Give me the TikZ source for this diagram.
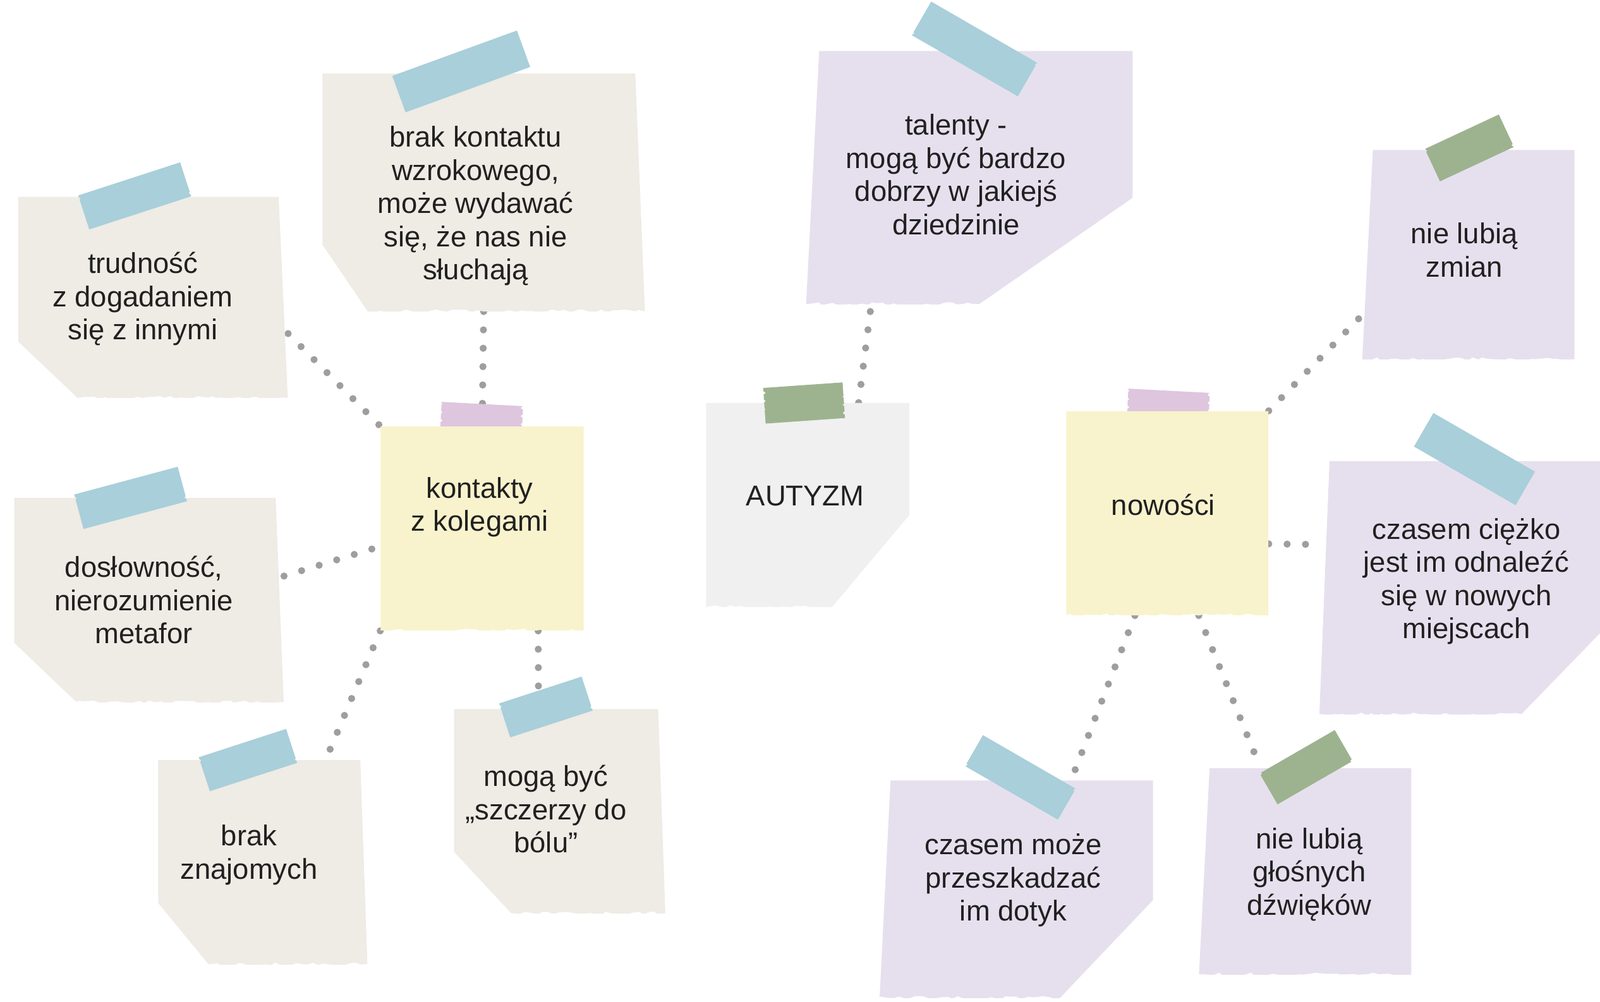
\documentclass[tikz,border=0pt]{standalone}
\usepackage{fontspec}
\setsansfont{Liberation Sans}
\usetikzlibrary{positioning,calc,backgrounds,decorations.pathmorphing}

\definecolor{beige}{RGB}{239,235,229}
\definecolor{lilac}{RGB}{230,224,238}
\definecolor{lemon}{RGB}{248,243,204}
\definecolor{ash}{RGB}{240,240,240}
\definecolor{tapeblue}{RGB}{168,207,218}
\definecolor{tapegreen}{RGB}{157,179,143}
\definecolor{tapepink}{RGB}{222,198,222}
\definecolor{dotgray}{RGB}{158,158,158}
\definecolor{ink}{RGB}{33,33,33}

\begin{document}
\begin{tikzpicture}[
    x=0.2mm, y=-0.2mm,
    note/.style={inner sep=0pt,align=center,text=ink,font=\fontsize{16}{18.5}\sffamily},
    torn/.style={decoration={random steps,segment length=3pt,amplitude=1pt}},
    jag/.style={decoration={zigzag,segment length=1.6mm,amplitude=0.5mm}},
    paper/.style n args={7}{rectangle,inner sep=0pt,path picture={
        \coordinate (nw) at (path picture bounding box.north west);
        \coordinate (ne) at (path picture bounding box.north east);
        \coordinate (sw) at (path picture bounding box.south west);
        \coordinate (se) at (path picture bounding box.south east);
        \fill[#1] ($(nw)!#6!(ne)$) -- ($(ne)!#7!(nw)$) -- ($(ne)!#4!(se)$) -- ($(se)!#5!(sw)$)
            decorate[torn]{-- ($(sw)!#3!(se)$)} -- ($(nw)!#2!(sw)$) -- cycle;}},
    strip/.style={rectangle,inner sep=0pt,minimum height=7mm,path picture={
        \coordinate (tnw) at (path picture bounding box.north west);
        \coordinate (tne) at (path picture bounding box.north east);
        \coordinate (tsw) at (path picture bounding box.south west);
        \coordinate (tse) at (path picture bounding box.south east);
        \fill[#1] (tnw) -- (tne) decorate[jag]{-- (tse)} -- (tsw) decorate[jag]{-- (tnw)} -- cycle;}},
    dotline/.style={draw=dotgray,line width=1.4mm,line cap=round,dash pattern=on 0pt off 3.6mm},
  ]
    \useasboundingbox (0,0) rectangle (1568,982);

    % left group
    \node[paper={beige}{.72}{.14}{1}{0}{0}{.03},minimum width=63.2mm,minimum height=46.6mm] (brak) at (474,188.5) {};
    \node[note] (brak-t) at (466,202) {brak kontaktu\\wzrokowego,\\może wydawać\\się, że nas nie\\słuchają};
    \node[paper={beige}{.72}{.22}{1}{0}{0}{.034},minimum width=52.8mm,minimum height=39.4mm] (trud) at (150,291.5) {};
    \node[note] (trud-t) at (140,293) {trudność\\z dogadaniem\\się z innymi};
    \node[paper={beige}{.71}{.23}{1}{0}{0}{.03},minimum width=52.8mm,minimum height=40mm] (dosl) at (146,588) {};
    \node[note] (dosl-t) at (141,588) {dosłowność,\\nierozumienie\\metafor};
    \node[paper={beige}{.70}{.24}{1}{0}{0}{.034},minimum width=41mm,minimum height=40mm] (znaj) at (257.5,845) {};
    \node[note] (znaj-t) at (244,838) {brak\\znajomych};
    \node[paper={beige}{.70}{.27}{1}{0}{0}{.034},minimum width=41.4mm,minimum height=40mm] (szcz) at (548.5,795) {};
    \node[note] (szcz-t) at (535,793) {mogą być\\„szczerzy do\\bólu”};
    \node[paper={lemon}{1}{0}{1}{0}{0}{0},minimum width=39.8mm,minimum height=40mm] (kont) at (472.5,518) {};
    \node[note] (kont-t) at (470,497) {kontakty\\z kolegami};

    % middle
    \node[paper={ash}{1}{0}{.55}{.38}{0}{0},minimum width=39.8mm,minimum height=40mm] (aut) at (791.5,495) {};
    \node[note] (aut-t) at (789,486) {AUTYZM};
    \node[paper={lilac}{1}{0}{.58}{.47}{.04}{0},minimum width=64mm,minimum height=49.6mm] (tal) at (950,174) {};
    \node[note] (tal-t) at (937,171) {talenty -\\mogą być bardzo\\dobrzy w jakiejś\\dziedzinie};

    % right group
    \node[paper={lemon}{1}{0}{1}{0}{0}{0},minimum width=39.6mm,minimum height=40mm] (now) at (1144,503) {};
    \node[note] (now-t) at (1140,495) {nowości};
    \node[paper={lilac}{1}{0}{1}{0}{.05}{0},minimum width=41.6mm,minimum height=41mm] (zmian) at (1439,249.5) {};
    \node[note] (zmian-t) at (1435,245) {nie lubią\\zmian};
    \node[paper={lilac}{1}{0}{.68}{.28}{.036}{0},minimum width=55mm,minimum height=49.6mm] (ciez) at (1430.5,576) {};
    \node[note] (ciez-t) at (1437,570) {czasem ciężko\\jest im odnaleźć\\się w nowych\\miejscach};
    \node[paper={lilac}{1}{0}{.55}{.34}{.04}{0},minimum width=53.6mm,minimum height=42.6mm] (dotyk) at (996,871.5) {};
    \node[note] (dotyk-t) at (993,863) {czasem może\\przeszkadzać\\im dotyk};
    \node[paper={lilac}{1}{0}{1}{0}{.05}{0},minimum width=41.6mm,minimum height=40.4mm] (glos) at (1279,854) {};
    \node[note] (glos-t) at (1283,857) {nie lubią\\głośnych\\dźwięków};

    % tapes on top
    \node[strip=tapeblue,minimum width=26mm,minimum height=7.6mm,rotate=20] (tbrak) at (452,70) {};
    \node[strip=tapeblue,minimum width=21mm,rotate=18] (ttrud) at (132,192) {};
    \node[strip=tapeblue,minimum width=21mm,rotate=15] (tdosl) at (128,488) {};
    \node[strip=tapeblue,minimum width=18mm,rotate=18] (tznaj) at (243,745) {};
    \node[strip=tapeblue,minimum width=17mm,rotate=18] (tszcz) at (535,693) {};
    \node[strip=tapegreen,minimum width=15.6mm,rotate=4] (taut) at (788,395) {};
    \node[strip=tapeblue,minimum width=24mm,minimum height=7.6mm,rotate=-30] (ttal) at (955,48) {};
    \node[strip=tapegreen,minimum width=16mm,rotate=25] (tzmian) at (1440,145) {};
    \node[strip=tapeblue,minimum width=23mm,minimum height=7.6mm,rotate=-30] (tciez) at (1445,450) {};
    \node[strip=tapeblue,minimum width=21mm,rotate=-30] (tdotyk) at (1000,762) {};
    \node[strip=tapegreen,minimum width=17mm,rotate=30] (tglos) at (1280,752) {};

    \begin{scope}[on background layer]
        \fill[white] (0,0) rectangle (1568,982);
        % dotted links
        \draw[dotline] (trud.-15) -- (kont.north west);
        \draw[dotline] (brak.south) -- (kont.north);
        \draw[dotline] (dosl.10) -- (kont.190);
        \draw[dotline] (kont.south west) -- ($(znaj.north)!.6!(znaj.north east)$);
        \draw[dotline] ($(kont.south)!.55!(kont.south east)$) -- ($(szcz.north west)!.4!(szcz.north east)$);
        \draw[dotline] ($(aut.north)!.5!(aut.north east)$) -- ($(tal.south west)!.2!(tal.south east)$);
        \draw[dotline] (now.north east) -- ($(zmian.north west)!.79!(zmian.south west)$);
        \draw[dotline] ($(now.east)!.3!(now.south east)$) -- ($(ciez.north west)!.33!(ciez.south west)$);
        \draw[dotline] ($(now.south)!.32!(now.south west)$) -- ($(dotyk.north west)!.7!(dotyk.north east)$);
        \draw[dotline] ($(now.south)!.31!(now.south east)$) -- ($(glos.north west)!.29!(glos.north east)$);
        % tapes behind the yellow notes
        \node[strip=tapepink,minimum width=16mm,minimum height=5.6mm,rotate=-3] (tkont) at (472,410) {};
        \node[strip=tapepink,minimum width=16mm,minimum height=5.6mm,rotate=-3] (tnow) at (1145,397) {};
    \end{scope}
\end{tikzpicture}
\end{document}
